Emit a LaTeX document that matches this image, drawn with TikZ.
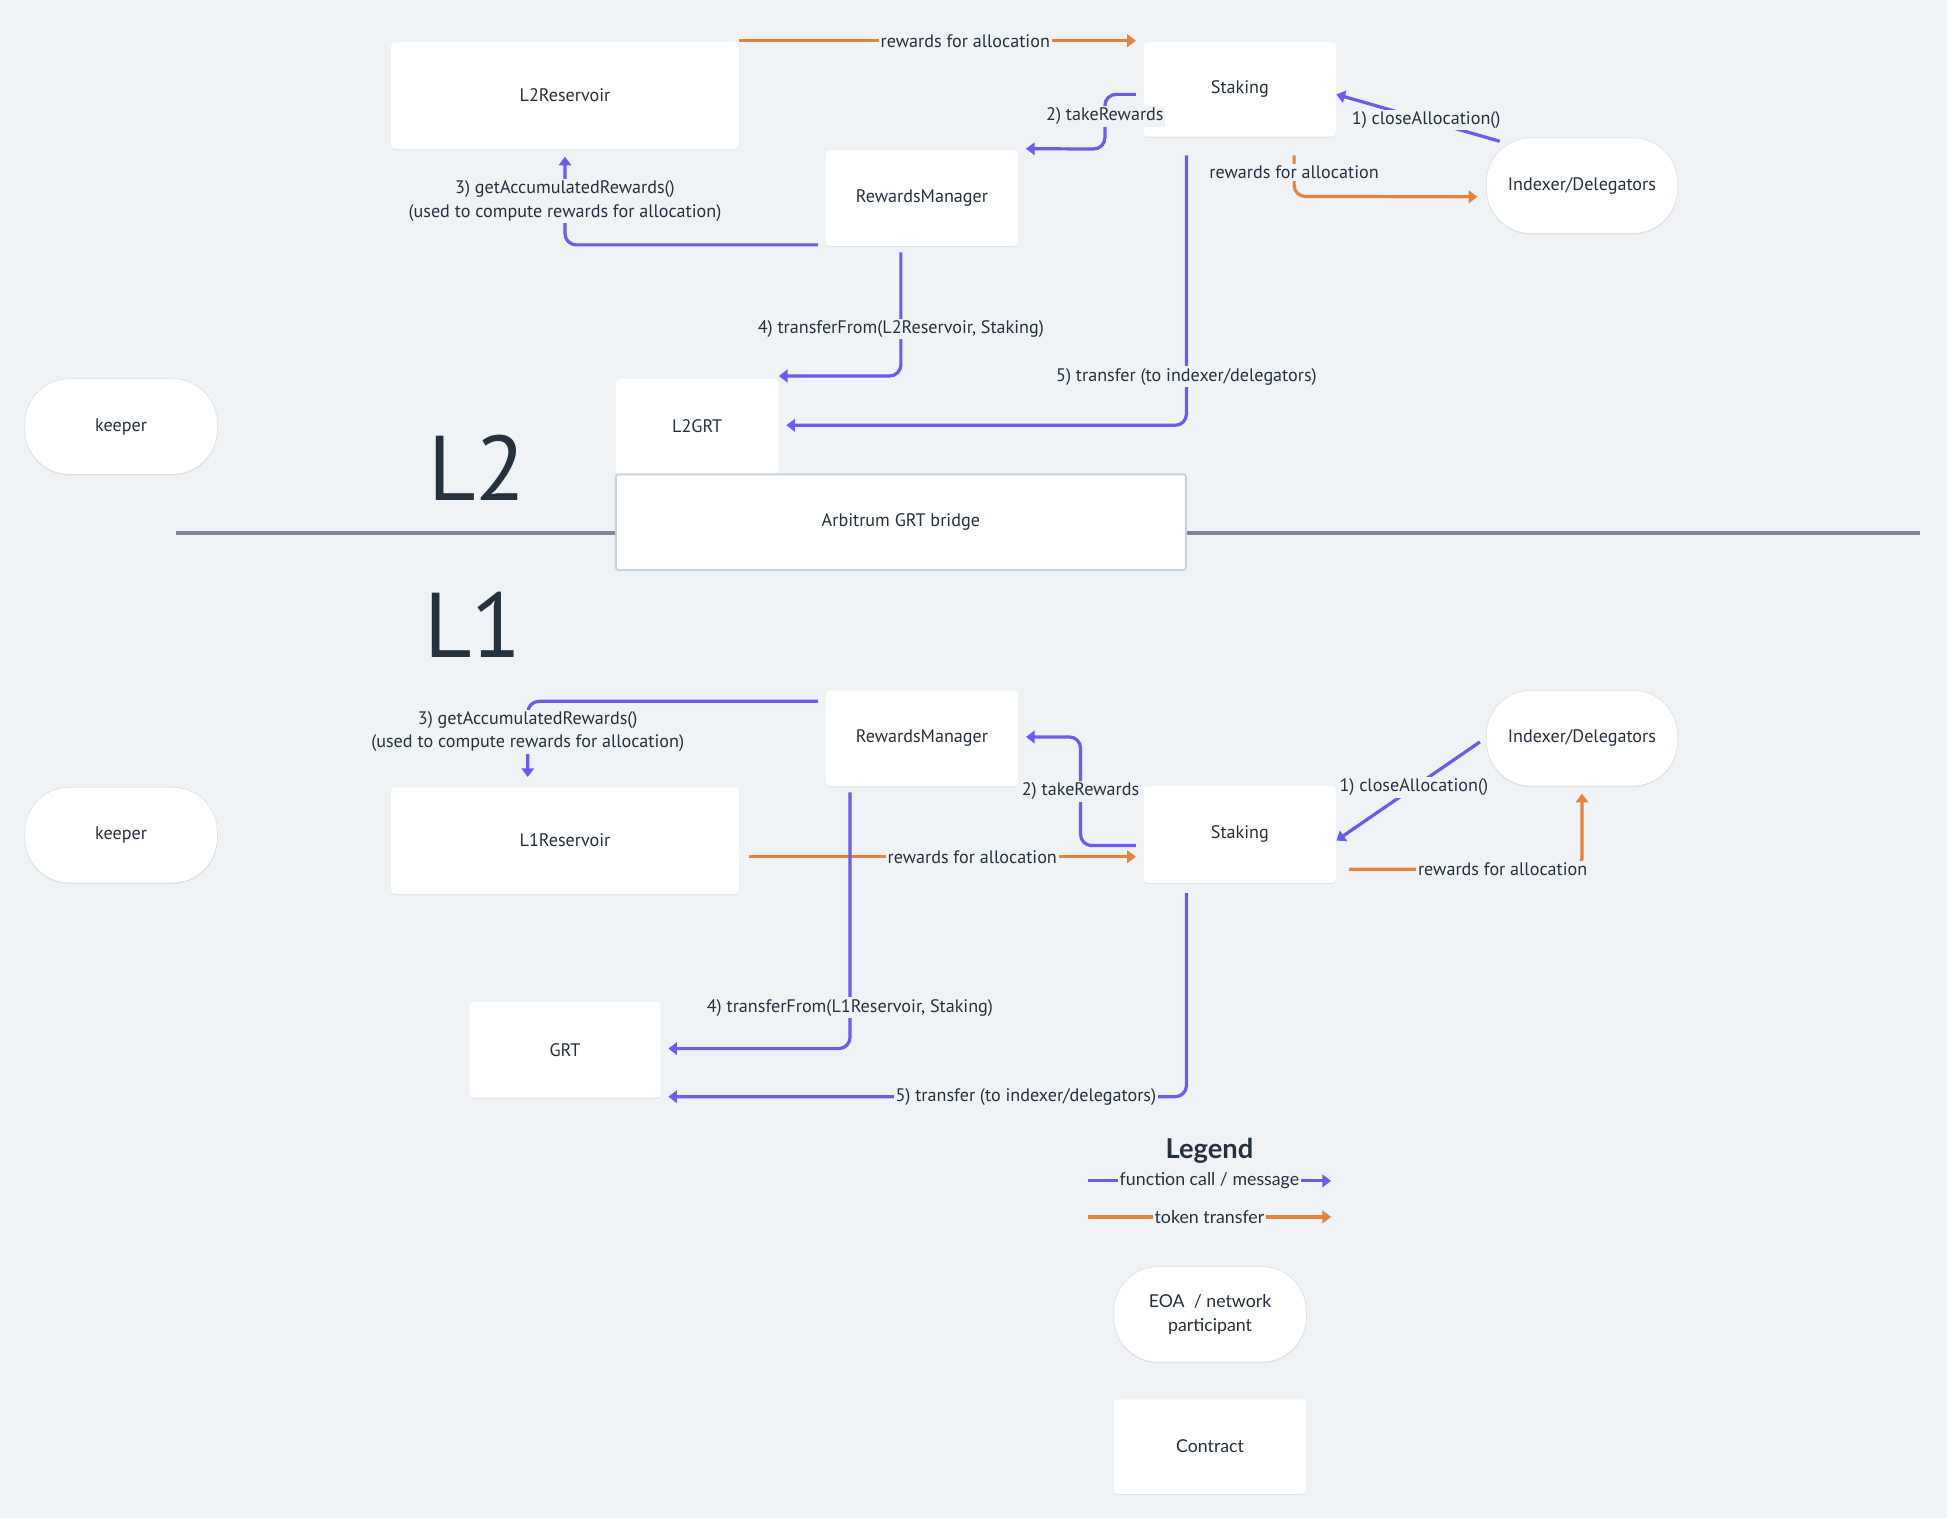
\documentclass[tikz,border=0pt]{standalone}
\usepackage{fontspec}
\setmainfont{PT Sans}
\newfontfamily\legfont{Lato}
\usetikzlibrary{arrows.meta,calc,shadows}
\definecolor{bgc}{HTML}{EFF3F6}
\definecolor{purp}{HTML}{6A5AF6}
\definecolor{orng}{HTML}{E8823A}
\definecolor{txt}{HTML}{25313C}
\definecolor{sep}{HTML}{7B8794}
\definecolor{brd}{HTML}{C6D1DB}
\newcommand{\lblfont}{\fontsize{14.6}{19}\selectfont}
\newcommand{\legsize}{\legfont\fontsize{14.3}{19.5}\selectfont}
\tikzset{
  box/.style={fill=white, rounded corners=3pt, minimum width=155pt, minimum height=77pt,
    inner sep=0pt, font=\lblfont, text=txt,
    drop shadow={shadow xshift=0pt, shadow yshift=-1pt, opacity=0.05, fill=black}},
  actor/.style={box, rounded corners=36pt, draw=black!14, line width=0.4pt},
  fcall/.style={draw=purp, line width=2.6pt, rounded corners=9pt, -{Triangle[length=7pt,width=10pt]}},
  tok/.style={draw=orng, line width=2.6pt, rounded corners=9pt, -{Triangle[length=7pt,width=10pt]}},
  lab/.style={fill=bgc, inner sep=1.5pt, text=txt, font=\lblfont, rounded corners=0pt},
  big/.style={font=\fontsize{74}{80}\selectfont, text=txt, inner sep=0pt}
}
\begin{document}
\begin{tikzpicture}[x=1pt,y=-1pt]
\useasboundingbox[fill=bgc] (0,0) rectangle (1568,1222.5);

% separator
\draw[sep, line width=3pt] (142,429) -- (1546,429);

% ---------- L2 nodes ----------
\node[box, minimum width=280pt, minimum height=86pt] (res2) at (455,77) {L2Reservoir};
\node[box, minimum height=76pt] (stk2) at (998.5,72) {Staking};
\node[box] (rm2) at (742.5,159.5) {RewardsManager};
\node[actor, minimum width=154pt] (idx2) at (1274,149.5) {Indexer/Delegators};
\node[actor] (keep2) at (97.5,343.5) {keeper};
\node[box, minimum width=131pt] (grt2) at (561.5,343.5) {L2GRT};
\node[box, minimum width=459pt, draw=brd, line width=1.5pt, rounded corners=2pt] (bridge) at (725.5,420.5) {Arbitrum GRT bridge};
\node[big] (l2) at (384,377) {L2};
\node[big] (l1) at (381,503) {L1};

% ---------- L1 nodes ----------
\node[actor] (keep1) at (97.5,672.5) {keeper};
\node[box, minimum width=280pt, minimum height=86pt] (res1) at (455,677) {L1Reservoir};
\node[box] (rm1) at (742.5,594.5) {RewardsManager};
\node[box, minimum height=78pt] (stk1) at (998.5,672) {Staking};
\node[actor, minimum width=154pt] (idx1) at (1274,594.5) {Indexer/Delegators};
\node[box, minimum width=154pt] (grt) at (455,845.5) {GRT};

% ---------- L2 connectors ----------
\draw[tok] ($(res2.north east)+(0,-1)$) -- node[lab, pos=0.57]{rewards for allocation} ($(stk2.north west)+(-6,-1)$);
\draw[fcall] ($(stk2.west)+(-6,4)$) -- ++(-25,0) -- node[lab, pos=0.4]{2) takeRewards} ++(0,44) -- ($(rm2.north east)+(6,-1)$);
\draw[fcall] ($(idx2.north west)+(11,3)$) -- node[lab, pos=0.45]{1) closeAllocation()} ($(stk2.east)+(0,4)$);
\draw[tok] ($(stk2.south east)+(-34,15)$) -- node[lab, pos=0.42]{rewards for allocation} ($(stk2.south east)+(-34,48)$) -- ($(idx2.west)+(-7,9)$);
\draw[fcall] ($(rm2.south west)+(-6,-1)$) -| node[lab, align=center, pos=0.75]{3) getAccumulatedRewards()\\(used to compute rewards for allocation)} ($(res2.south)+(0,6)$);
\draw[fcall] ($(rm2.south)+(-17,5)$) |- node[lab, pos=0.31]{4) transferFrom(L2Reservoir, Staking)} ($(grt2.north east)+(0,-2)$);
\draw[fcall] ($(stk2.south)+(-43,15)$) |- node[lab, pos=0.41]{5) transfer (to indexer/delegators)} ($(grt2.east)+(6,-1)$);

% ---------- L1 connectors ----------
\draw[tok] ($(res1.east)+(8,13)$) -- node[lab, pos=0.577]{rewards for allocation} ($(stk1.west)+(-6,18)$);
\draw[fcall] ($(stk1.west)+(-6,9)$) -| node[lab, pos=0.75]{2) takeRewards} ($(rm1.east)+(50,-1)$) -- ($(rm1.east)+(6,-1)$);
\draw[fcall] ($(idx1.west)+(-5,3)$) -- node[lab, pos=0.46]{1) closeAllocation()} ($(stk1.east)+(0,5)$);
\draw[tok] ($(stk1.east)+(10,28)$) -| node[lab, pos=0.33]{rewards for allocation} ($(idx1.south)+(0,6)$);
\draw[fcall] ($(rm1.north west)+(-6,9)$) -| node[lab, align=center, pos=0.7]{3) getAccumulatedRewards()\\(used to compute rewards for allocation)} ($(res1.north)+(-30,-8)$);
\draw[fcall] ($(rm1.south)+(-58,5)$) |- node[lab, pos=0.42]{4) transferFrom(L1Reservoir, Staking)} ($(grt.east)+(6,-1)$);
\draw[fcall] ($(stk1.south)+(-43,8)$) |- node[lab, pos=0.655]{5) transfer (to indexer/delegators)} ($(grt.south east)+(6,-1)$);

% ---------- Legend ----------
\node[text=txt, font=\legfont\bfseries\fontsize{22}{26}\selectfont] (legt) at (974,927) {Legend};
\coordinate (lf1) at (876,951);
\coordinate (lf2) at (1072,951);
\coordinate (lt1) at (876,980);
\coordinate (lt2) at (1072,980);
\draw[fcall] (lf1) -- node[lab, font=\legsize]{function call / message} (lf2);
\draw[tok] (lt1) -- node[lab, font=\legsize]{token transfer} (lt2);
\node[actor, font=\legsize, align=center] (eoa) at (974.5,1058.5) {EOA~~/ network\\participant};
\node[box, font=\legsize, minimum height=76pt] (contract) at (974.5,1165) {Contract};
\end{tikzpicture}
\end{document}
